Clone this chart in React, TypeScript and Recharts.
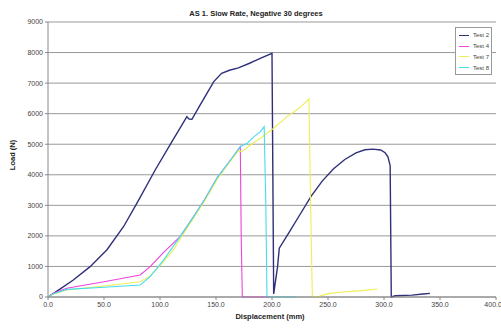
import { CartesianGrid, Line, LineChart, XAxis, YAxis } from 'recharts'

// displacement (mm) / load (N)
const test2X = [0, 10, 22.6, 37.6, 52.5, 67.4, 79.3, 95.7, 110, 124, 126, 128.5, 135, 141, 148, 155, 162, 170, 180, 190, 200, 201.5, 205, 206.5, 215, 225, 235, 245, 255, 265, 275, 283, 290, 297, 301, 303.5, 305.5, 306.5, 310, 325, 335, 341]
const test2Y = [0, 240, 556, 993, 1539, 2300, 3067, 4157, 5044, 5900, 5820, 5816, 6230, 6610, 7048, 7322, 7420, 7500, 7650, 7820, 7977, 100, 1000, 1600, 2100, 2700, 3300, 3800, 4200, 4500, 4720, 4820, 4840, 4810, 4720, 4590, 4300, 0, 40, 60, 100, 120]

const test4X = [0, 5, 16.7, 50, 82.3, 91.2, 103, 118, 130, 140, 151, 163, 171.7, 172.5, 173.5, 185, 198]
const test4Y = [0, 120, 284, 500, 720, 993, 1450, 1975, 2630, 3200, 3900, 4485, 4920, 2000, 0, 0, 0]

const test7X = [0, 5, 16.7, 50, 82.3, 91.2, 103, 112, 118, 130, 140, 151, 163, 170, 173.2, 180, 189.6, 201.5, 213.5, 225, 233, 234.5, 236, 242, 250, 265, 280, 294]
const test7Y = [0, 100, 230, 360, 500, 690, 1150, 1540, 1900, 2580, 3150, 3850, 4450, 4780, 4756, 4950, 5195, 5522, 5902, 6200, 6480, 3000, 0, 20, 110, 170, 210, 260]

const test8X = [0, 5, 16.7, 50, 82.3, 91.2, 103, 118, 130, 140, 151, 163, 171.7, 177.7, 184, 189.6, 193, 194.5, 195.5, 210, 222]
const test8Y = [0, 110, 250, 320, 393, 666, 1200, 1975, 2630, 3200, 3900, 4485, 4920, 5030, 5250, 5410, 5575, 3000, 0, 0, 0]

const xTicks = [0, 50, 100, 150, 200, 250, 300, 350, 400]
const yTicks = [0, 1000, 2000, 3000, 4000, 5000, 6000, 7000, 8000, 9000]

const toPoints = (xs: number[], ys: number[]) => xs.map((x, i) => ({ x, load: ys[i] }))

const series = [
  { name: 'Test 2', color: '#30307a', width: 1.4, data: toPoints(test2X, test2Y) },
  { name: 'Test 4', color: '#ee44dd', width: 1.1, data: toPoints(test4X, test4Y) },
  { name: 'Test 7', color: '#eeee55', width: 1.1, data: toPoints(test7X, test7Y) },
  { name: 'Test 8', color: '#44ddee', width: 1.1, data: toPoints(test8X, test8Y) },
]

const font = '"Liberation Sans", Arial, sans-serif'

function LegendBox() {
  return (
    <div
      style={{
        position: 'absolute',
        left: 455,
        top: 27,
        width: 37,
        height: 48,
        border: '1px solid #999',
        background: '#fff',
        fontFamily: font,
        fontSize: 6,
        color: '#444',
        paddingTop: 2,
        boxSizing: 'border-box',
      }}
    >
      {series.map((s) => (
        <div key={s.name} style={{ display: 'flex', alignItems: 'center', height: 10.8 }}>
          <span style={{ display: 'inline-block', width: 10, height: 1, background: s.color, marginLeft: 3, marginRight: 4 }} />
          <span>{s.name}</span>
        </div>
      ))}
    </div>
  )
}

export default function App() {
  return (
    <div style={{ position: 'absolute', left: 0, top: 0, width: 501, height: 330, background: '#fff' }}>
      <div
        style={{
          position: 'absolute',
          top: 9,
          left: 0,
          width: 512,
          textAlign: 'center',
          fontFamily: font,
          fontWeight: 'bold',
          fontSize: 7.5,
          color: '#222',
        }}
      >
        AS 1. Slow Rate, Negative 30 degrees
      </div>
      <LineChart width={501} height={330} margin={{ top: 22, right: 5, bottom: 0, left: 0 }}>
        <CartesianGrid vertical={false} stroke='#999' />
        <XAxis
          dataKey='x'
          type='number'
          domain={[0, 400]}
          ticks={xTicks}
          tickFormatter={(v: number) => v.toFixed(1)}
          allowDuplicatedCategory={false}
          stroke='#888'
          tickSize={3}
          height={33}
          tick={{ fontSize: 7, fill: '#444', fontFamily: font }}
          label={{
            content: () => (
              <text x={270} y={319} textAnchor='middle' fontFamily={font} fontWeight='bold' fontSize={7.5} fill='#222'>
                Displacement (mm)
              </text>
            ),
          }}
        />
        <YAxis
          type='number'
          domain={[0, 9000]}
          ticks={yTicks}
          width={48}
          stroke='#888'
          tickSize={3}
          tick={{ fontSize: 7, fill: '#444', fontFamily: font }}
          label={{
            content: () => (
              <text x={15} y={155} transform='rotate(-90 15 155)' textAnchor='middle' fontFamily={font} fontWeight='bold' fontSize={7.5} fill='#222'>
                Load (N)
              </text>
            ),
          }}
        />
        {series.map((s) => (
          <Line
            key={s.name}
            data={s.data}
            dataKey='load'
            name={s.name}
            type='linear'
            stroke={s.color}
            strokeWidth={s.width}
            dot={false}
            isAnimationActive={false}
          />
        ))}
      </LineChart>
      <LegendBox />
    </div>
  )
}
